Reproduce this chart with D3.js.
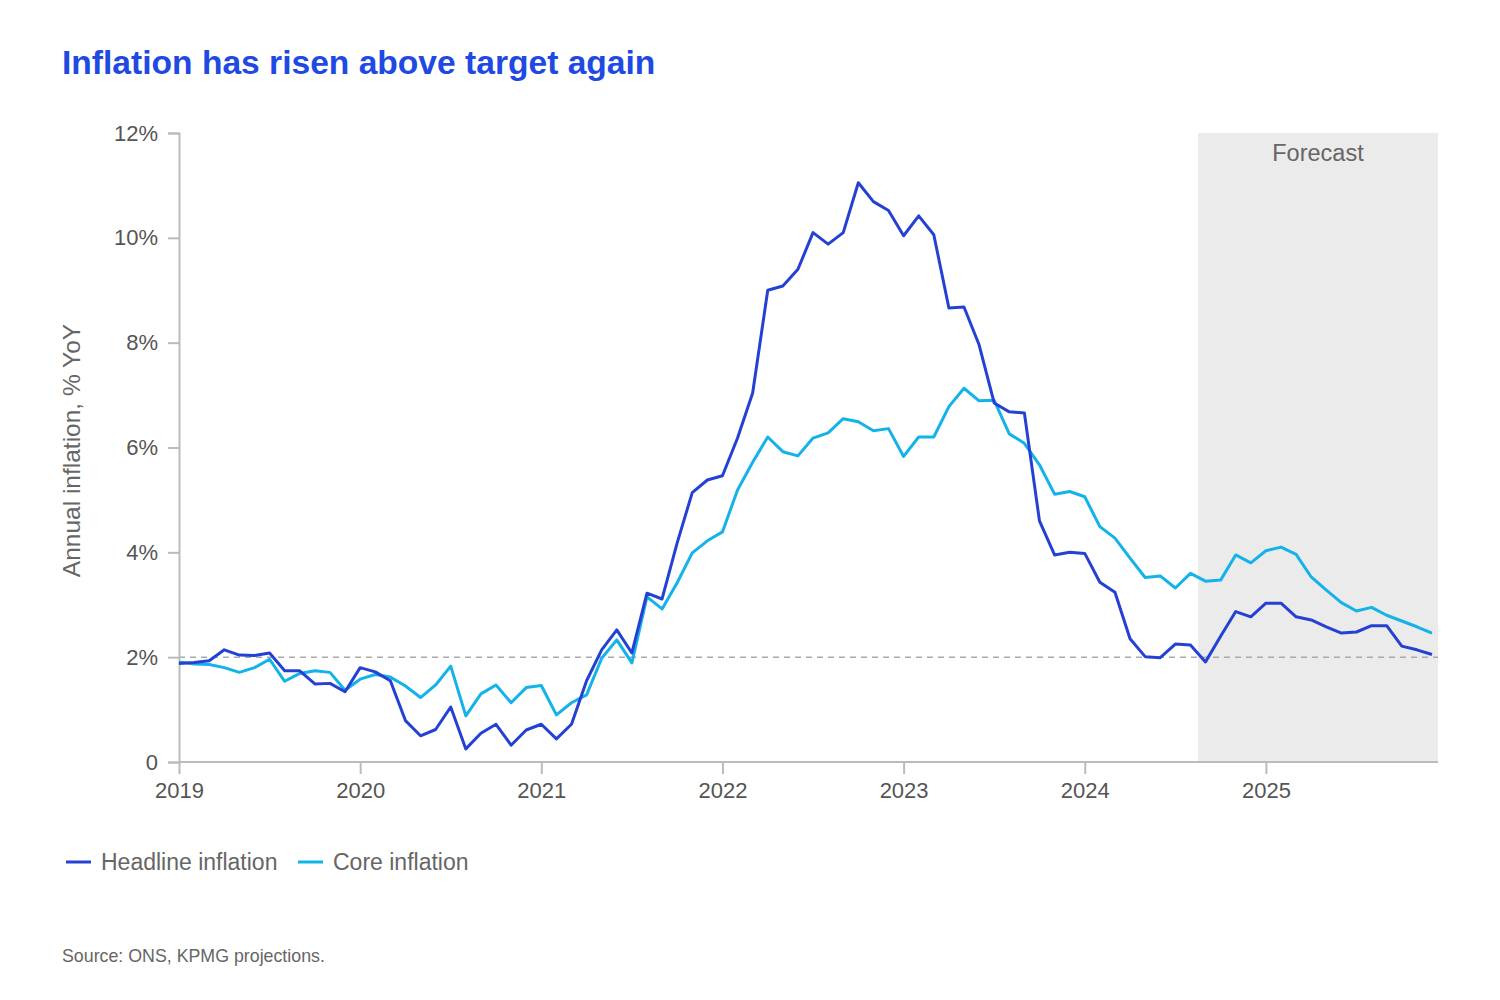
<!DOCTYPE html>
<html>
<head>
<meta charset="utf-8">
<script src="https://cdn.jsdelivr.net/npm/d3@7"></script>
<style>
  body { margin: 0; background: #fff; }
  svg { display: block; font-family: "Liberation Sans", Arial, sans-serif; }
</style>
</head>
<body>
<svg id="chart" width="1500" height="1000"></svg>
<script>
// ---- Data (monthly, Jan 2019 – Dec 2025) ----
const startYear = 2019;
const yearTicks = [2019, 2020, 2021, 2022, 2023, 2024, 2025];
const yTicks = [0, 2, 4, 6, 8, 10, 12];
const headline = [
  1.88,1.9,1.93,2.14,2.04,2.03,2.08,1.74,1.74,1.49,1.5,1.34,
  1.8,1.72,1.55,0.79,0.5,0.62,1.05,0.25,0.55,0.72,0.32,0.61,
  0.72,0.44,0.72,1.55,2.14,2.52,2.08,3.22,3.11,4.18,5.14,5.38,
  5.46,6.18,7.04,9.0,9.08,9.4,10.1,9.88,10.1,11.05,10.69,10.52,
  10.04,10.42,10.06,8.66,8.68,7.96,6.85,6.68,6.66,4.6,3.95,4.0,
  3.98,3.43,3.24,2.35,2.01,1.99,2.25,2.23,1.91,2.4,2.87,2.77,
  3.03,3.03,2.77,2.71,2.58,2.46,2.48,2.6,2.6,2.21,2.14,2.05
];
const core = [
  1.91,1.87,1.86,1.8,1.71,1.8,1.96,1.54,1.69,1.74,1.71,1.37,
  1.58,1.67,1.62,1.45,1.23,1.47,1.83,0.88,1.3,1.47,1.13,1.42,
  1.46,0.9,1.13,1.28,1.98,2.33,1.89,3.15,2.92,3.42,3.99,4.22,
  4.39,5.19,5.72,6.2,5.92,5.84,6.18,6.28,6.55,6.49,6.32,6.36,
  5.83,6.2,6.2,6.78,7.13,6.89,6.9,6.26,6.08,5.67,5.11,5.16,
  5.06,4.49,4.27,3.89,3.52,3.55,3.32,3.6,3.45,3.47,3.95,3.8,
  4.03,4.1,3.96,3.53,3.28,3.04,2.88,2.95,2.8,2.69,2.58,2.46
];
const forecastStart = 67.5;   // between Aug and Sep 2024 (month index)
const axisEnd = 83.4;         // month index where the axis ends
const target = 2;
const seriesNames = ["Headline inflation", "Core inflation"];
const seriesColors = ["#2541d3", "#13b3ea"];

// ---- Layout ----
const svg = d3.select("#chart");
const mLeft = 179, mRight = 1438, mTop = 133, mBottom = 762;

const x = d3.scaleLinear().domain([0, axisEnd]).range([mLeft, mRight]);
const y = d3.scaleLinear().domain([0, 12]).range([mBottom, mTop]);

// Forecast shading
svg.append("rect")
  .attr("x", x(forecastStart)).attr("y", y(12))
  .attr("width", x(axisEnd) - x(forecastStart))
  .attr("height", y(0) - y(12))
  .attr("fill", "#ebebeb");
svg.append("text")
  .attr("x", (x(forecastStart) + x(axisEnd)) / 2).attr("y", 161)
  .attr("text-anchor", "middle").attr("font-size", 23.5).attr("fill", "#666")
  .text("Forecast");

// Target line
svg.append("line")
  .attr("x1", x(0)).attr("x2", x(axisEnd))
  .attr("y1", y(target)).attr("y2", y(target))
  .attr("stroke", "#aaa").attr("stroke-width", 1.5)
  .attr("stroke-dasharray", "6,5");

// Y axis
const yAxis = svg.append("g")
  .attr("transform", `translate(${mLeft},0)`)
  .call(d3.axisLeft(y).tickValues(yTicks).tickSize(11).tickPadding(10)
    .tickFormat(d => d === 0 ? "0" : d + "%"));
yAxis.select(".domain").attr("stroke", "#bbb").attr("stroke-width", 2);
yAxis.selectAll(".tick line").attr("stroke", "#bbb").attr("stroke-width", 2);
yAxis.selectAll(".tick text").attr("font-size", 22).attr("fill", "#555")
  .attr("font-family", "Liberation Sans, Arial, sans-serif");

// X axis
const xAxis = svg.append("g")
  .attr("transform", `translate(0,${mBottom})`)
  .call(d3.axisBottom(x).tickValues(yearTicks.map(yy => (yy - startYear) * 12))
    .tickSize(12).tickPadding(8)
    .tickFormat(d => startYear + d / 12));
xAxis.select(".domain").attr("stroke", "#bbb").attr("stroke-width", 2)
  .attr("d", `M${x(0)},0H${x(axisEnd)}`);
xAxis.selectAll(".tick line").attr("stroke", "#bbb").attr("stroke-width", 2);
xAxis.selectAll(".tick text").attr("font-size", 22).attr("fill", "#555")
  .attr("font-family", "Liberation Sans, Arial, sans-serif");

// Lines (core first, headline on top)
const line = d3.line().x((d, i) => x(i)).y(d => y(d));
[core, headline].forEach((s, k) => {
  svg.append("path").datum(s)
    .attr("d", line)
    .attr("fill", "none")
    .attr("stroke", seriesColors[1 - k])
    .attr("stroke-width", 3)
    .attr("stroke-linejoin", "round");
});

// Title
svg.append("text")
  .attr("x", 62).attr("y", 74)
  .attr("font-size", 33.6).attr("font-weight", "bold").attr("fill", "#1e49e2")
  .text("Inflation has risen above target again");

// Y axis label
svg.append("text")
  .attr("transform", `translate(80,${(mTop + mBottom) / 2 + 3}) rotate(-90)`)
  .attr("text-anchor", "middle").attr("font-size", 24.5).attr("fill", "#666")
  .text("Annual inflation, % YoY");

// Legend
const legendX = [66, 298];
legendX.forEach((lx, k) => {
  svg.append("line")
    .attr("x1", lx).attr("x2", lx + 25)
    .attr("y1", 862).attr("y2", 862)
    .attr("stroke", seriesColors[k]).attr("stroke-width", 3);
  svg.append("text")
    .attr("x", lx + 35).attr("y", 870)
    .attr("font-size", 23).attr("fill", "#666")
    .text(seriesNames[k]);
});

// Source
svg.append("text")
  .attr("x", 62).attr("y", 962)
  .attr("font-size", 17.8).attr("fill", "#666")
  .text("Source: ONS, KPMG projections.");
</script>
</body>
</html>
